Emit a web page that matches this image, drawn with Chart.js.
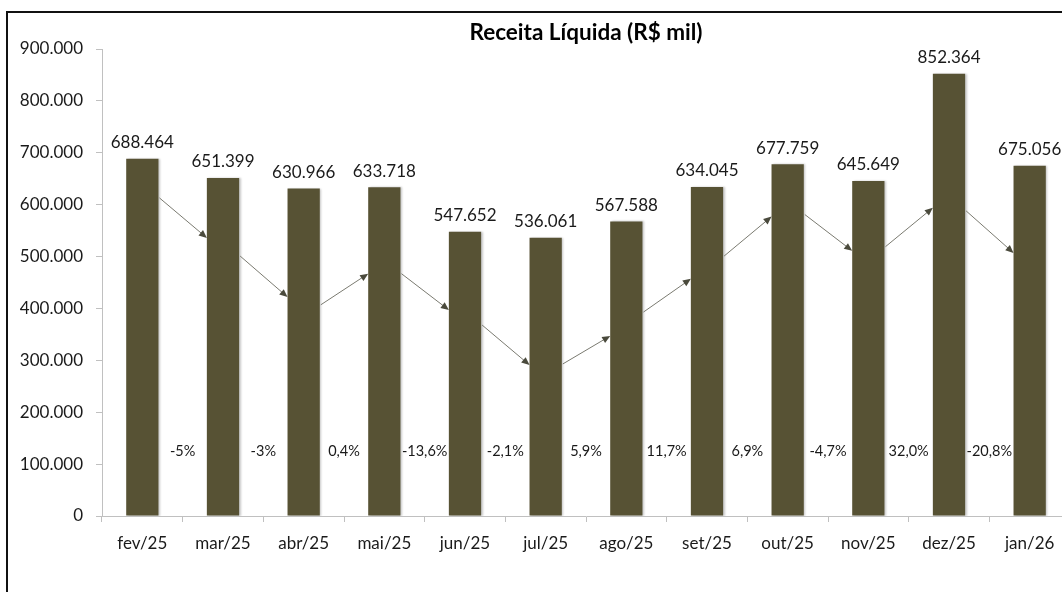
<!DOCTYPE html>
<html>
<head>
<meta charset="utf-8">
<script src="https://cdn.jsdelivr.net/npm/chart.js@4/dist/chart.umd.min.js"></script>
<style>
  html, body { margin: 0; padding: 0; background: #fff; overflow: hidden; }
  #frame { position: absolute; left: 6px; top: 11px; width: 1100px; height: 620px; border: 2px solid #111; }
  #wrap { position: absolute; left: 0; top: 0; width: 1100px; height: 600px; }
</style>
</head>
<body>
<div id="frame"></div>
<div id="wrap"><canvas id="receitaChart"></canvas></div>
<script>
// meses
var meses = ['fev/25', 'mar/25', 'abr/25', 'mai/25', 'jun/25', 'jul/25', 'ago/25', 'set/25', 'out/25', 'nov/25', 'dez/25', 'jan/26'];
// receita liquida (R$ mil)
var receita = [688464, 651399, 630966, 633718, 547652, 536061, 567588, 634045, 677759, 645649, 852364, 675056];
// variacao mes a mes (texto como aparece)
var variacao = ['-5%', '-3%', '0,4%', '-13,6%', '-2,1%', '5,9%', '11,7%', '6,9%', '-4,7%', '32,0%', '-20,8%'];
// setas entre as barras: nivel de saida e de chegada (escala do eixo)
var setaDe = [613000, 501000, 407000, 467000, 368000, 293000, 393000, 501000, 581000, 519000, 588000];
var setaAte = [536000, 422000, 467000, 397000, 291000, 347000, 457000, 577000, 511000, 594000, 507000];
var eixoTicks = [0, 100000, 200000, 300000, 400000, 500000, 600000, 700000, 800000, 900000];

var FONT = 'Lato, "Liberation Sans", sans-serif';

function formatBR(v) {
    return String(v).replace(/\B(?=(\d{3})+(?!\d))/g, '.');
}

var extrasPlugin = {
    id: 'extras',
    beforeDatasetsDraw: function(chart) {
        // leve sombra nas barras
        var c = chart.ctx;
        c.save();
        c.shadowColor = 'rgba(0,0,0,0.22)';
        c.shadowOffsetX = 1.5;
        c.shadowOffsetY = 0;
        c.shadowBlur = 2;
    },
    afterDatasetsDraw: function(chart) {
        var ctx = chart.ctx;
        ctx.restore();
        var meta = chart.getDatasetMeta(0);
        var y = chart.scales.y;
        ctx.save();

        // rotulos de valor
        ctx.fillStyle = '#1a1a1a';
        ctx.font = '17px ' + FONT;
        ctx.textAlign = 'center';
        ctx.textBaseline = 'middle';
        meta.data.forEach(function(bar, i) {
            ctx.fillText(formatBR(receita[i]), bar.x, bar.y - 16);
        });

        // variacao
        ctx.font = '14.5px ' + FONT;
        for (var i = 0; i < variacao.length; i++) {
            var xm = (meta.data[i].x + meta.data[i + 1].x) / 2;
            ctx.fillText(variacao[i], xm, y.getPixelForValue(125000));
        }

        // setas
        for (var j = 0; j < setaDe.length; j++) {
            var a = meta.data[j], b = meta.data[j + 1];
            var x1 = a.x + a.width / 2 + 1, y1 = y.getPixelForValue(setaDe[j]);
            var x2 = b.x - b.width / 2, y2 = y.getPixelForValue(setaAte[j]);
            var ang = Math.atan2(y2 - y1, x2 - x1);
            ctx.strokeStyle = '#7a7a70';
            ctx.lineWidth = 1;
            ctx.beginPath();
            ctx.moveTo(x1, y1);
            ctx.lineTo(x2 - 6 * Math.cos(ang), y2 - 6 * Math.sin(ang));
            ctx.stroke();
            ctx.fillStyle = '#4a4a3c';
            ctx.beginPath();
            ctx.moveTo(x2, y2);
            ctx.lineTo(x2 - 8 * Math.cos(ang) + 3.5 * Math.sin(ang), y2 - 8 * Math.sin(ang) - 3.5 * Math.cos(ang));
            ctx.lineTo(x2 - 8 * Math.cos(ang) - 3.5 * Math.sin(ang), y2 - 8 * Math.sin(ang) + 3.5 * Math.cos(ang));
            ctx.closePath();
            ctx.fill();
        }
        ctx.restore();
    }
};

var ctx = document.getElementById('receitaChart').getContext('2d');
new Chart(ctx, {
    type: 'bar',
    data: {
        labels: meses,
        datasets: [{
            data: receita,
            backgroundColor: '#575234',
            categoryPercentage: 1,
            barPercentage: 0.4
        }]
    },
    options: {
        responsive: true,
        maintainAspectRatio: false,
        animation: false,
        layout: { padding: { left: 0, right: 30, top: 0, bottom: 40 } },
        plugins: {
            legend: { display: false },
            tooltip: { enabled: false },
            title: {
                display: true,
                text: 'Receita Líquida (R$ mil)',
                fullSize: false,
                color: '#000',
                font: { family: FONT, size: 22.5, weight: 'bold' },
                padding: { top: 19, bottom: 3 }
            }
        },
        scales: {
            x: {
                afterFit: function(s) { s.height = 44; },
                grid: { drawOnChartArea: false, drawTicks: true, tickLength: 6, color: '#c0c0c0' },
                border: { color: '#c0c0c0' },
                ticks: { color: '#1a1a1a', padding: 11, font: { family: FONT, size: 17 } }
            },
            y: {
                min: 0,
                max: 900000,
                afterFit: function(s) { s.width = 102; },
                afterBuildTicks: function(s) { s.ticks = eixoTicks.map(function(v) { return { value: v }; }); },
                grid: { drawOnChartArea: false, drawTicks: true, tickLength: 6, color: '#c0c0c0' },
                border: { color: '#c0c0c0' },
                ticks: {
                    color: '#1a1a1a',
                    padding: 13,
                    font: { family: FONT, size: 17 },
                    callback: function(v) { return formatBR(v); }
                }
            }
        }
    },
    plugins: [extrasPlugin]
});
</script>
</body>
</html>
